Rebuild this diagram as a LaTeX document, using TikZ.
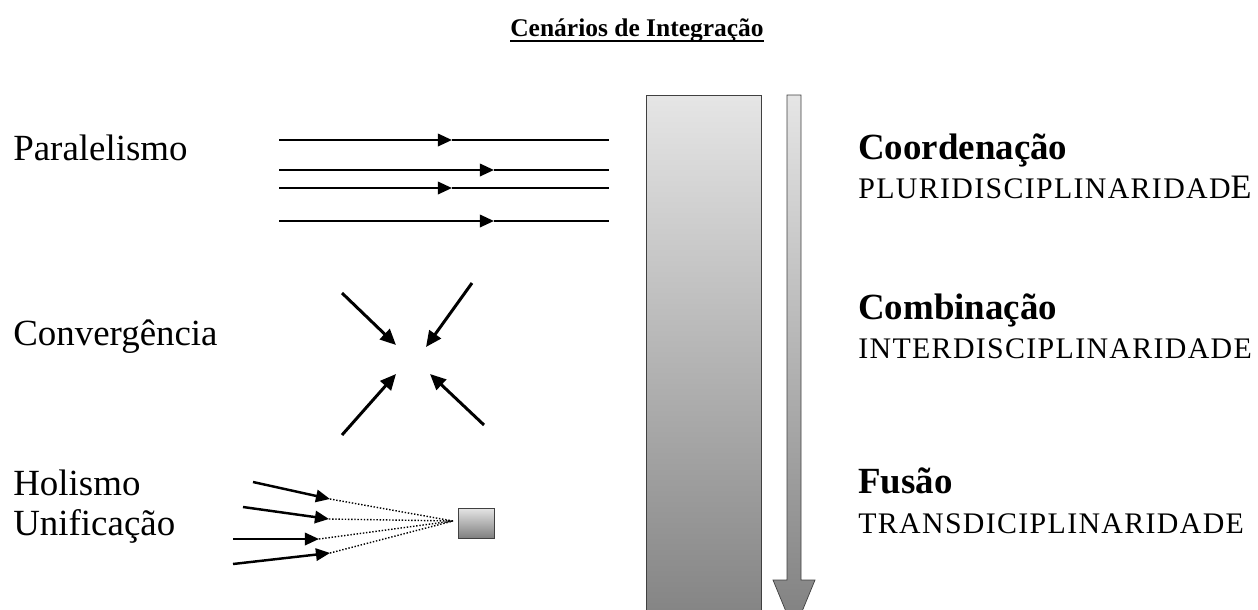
\documentclass[tikz,border=0pt]{standalone}
\usepackage{fontspec}
\setmainfont{Liberation Serif}
\usetikzlibrary{arrows.meta}

\begin{document}
\begin{tikzpicture}[x=0.02cm,y=-0.02cm,
  scenario/.style={anchor=base west,inner sep=0pt,font=\fontsize{21}{25}\selectfont},
  stage/.style={anchor=base west,inner sep=0pt,font=\bfseries\fontsize{21}{25}\selectfont},
  caps/.style={anchor=base west,inner sep=0pt,font=\fontsize{17}{20}\selectfont\addfontfeature{LetterSpace=4.5}},
  tip/.style={-{Triangle[length=8pt,width=7pt]}},
  grad/.style={top color=black!10,bottom color=black!50,draw=black!75}]

% Frame of the picture
\useasboundingbox (0,0) rectangle (1258,609);
\clip (0,0) rectangle (1258,609);

% Title
\node[font=\bfseries\fontsize{14.5}{17}\selectfont,inner sep=0pt,anchor=base] (title) at (637,36) {Cenários de Integração};
\draw[line width=1.3pt] ([yshift=-3pt]title.base west) -- ([yshift=-3pt]title.base east);

% Scenarios on the left
\node[scenario] (paral) at (13,160) {Paralelismo};
\node[scenario] (conv) at (13,345) {Convergência};
\node[scenario] (holis) at (13,495) {Holismo};
\node[scenario] (unif) at (13,535) {Unificação};

% Parallel lines
\foreach \y/\m [count=\i] in {140/452,170/494,188/452,221/494} {
  \coordinate (in\i) at (279,\y);
  \coordinate (mid\i) at (\m,\y);
  \coordinate (out\i) at (609,\y);
  \draw[line width=1.4pt,tip] (in\i) -- (mid\i);
  \draw[line width=0.9pt] (mid\i) -- (out\i);
}

% Converging arrows
\coordinate (nw) at (342,293); \coordinate (nwt) at (396,345);
\coordinate (ne) at (472,283); \coordinate (net) at (426,347);
\coordinate (sw) at (342,435); \coordinate (swt) at (396,374);
\coordinate (se) at (484,425); \coordinate (set) at (430,374);
\foreach \a/\b in {nw/nwt,ne/net,sw/swt,se/set}
  \draw[line width=1.7pt,-{Triangle[length=9pt,width=8pt]}] (\a) -- (\b);

% Holism: arrows fanning into one box
\node[grad,shade,minimum width=0.72cm,minimum height=0.6cm,inner sep=0pt] (goal) at (476,523) {};
\coordinate (focus) at (453,521);
\foreach \xa/\ya/\xb/\yb [count=\i] in {253/482/330/499,243/507/329/519,233/539/319/539,233/564/330/553} {
  \coordinate (h\i) at (\xa,\ya);
  \coordinate (ht\i) at (\xb,\yb);
  \draw[line width=1.4pt,tip] (h\i) -- (ht\i);
  \draw[densely dotted,line width=0.8pt] (ht\i) -- (focus);
}

% Bar and arrow of integration
\shade[grad] (646,95) rectangle (761,640);
\shade[grad] (787,95) -- (801,95) -- (801,580) -- (815,580) -- (794,631)
  -- (773,580) -- (787,580) -- cycle;

% Levels on the right
\node[stage] (coord) at (858,159) {Coordenação};
\node[caps] (pluri) at (858,198) {PLURIDISCIPLINARIDAD{\fontsize{19.5}{22}\selectfont E}};
\node[stage] (comb) at (858,319) {Combinação};
\node[caps] (inter) at (858,358) {INTERDISCIPLINARIDADE};
\node[stage] (fus) at (858,493) {Fusão};
\node[caps] (trans) at (858,533) {TRANSDICIPLINARIDADE};

\end{tikzpicture}
\end{document}
